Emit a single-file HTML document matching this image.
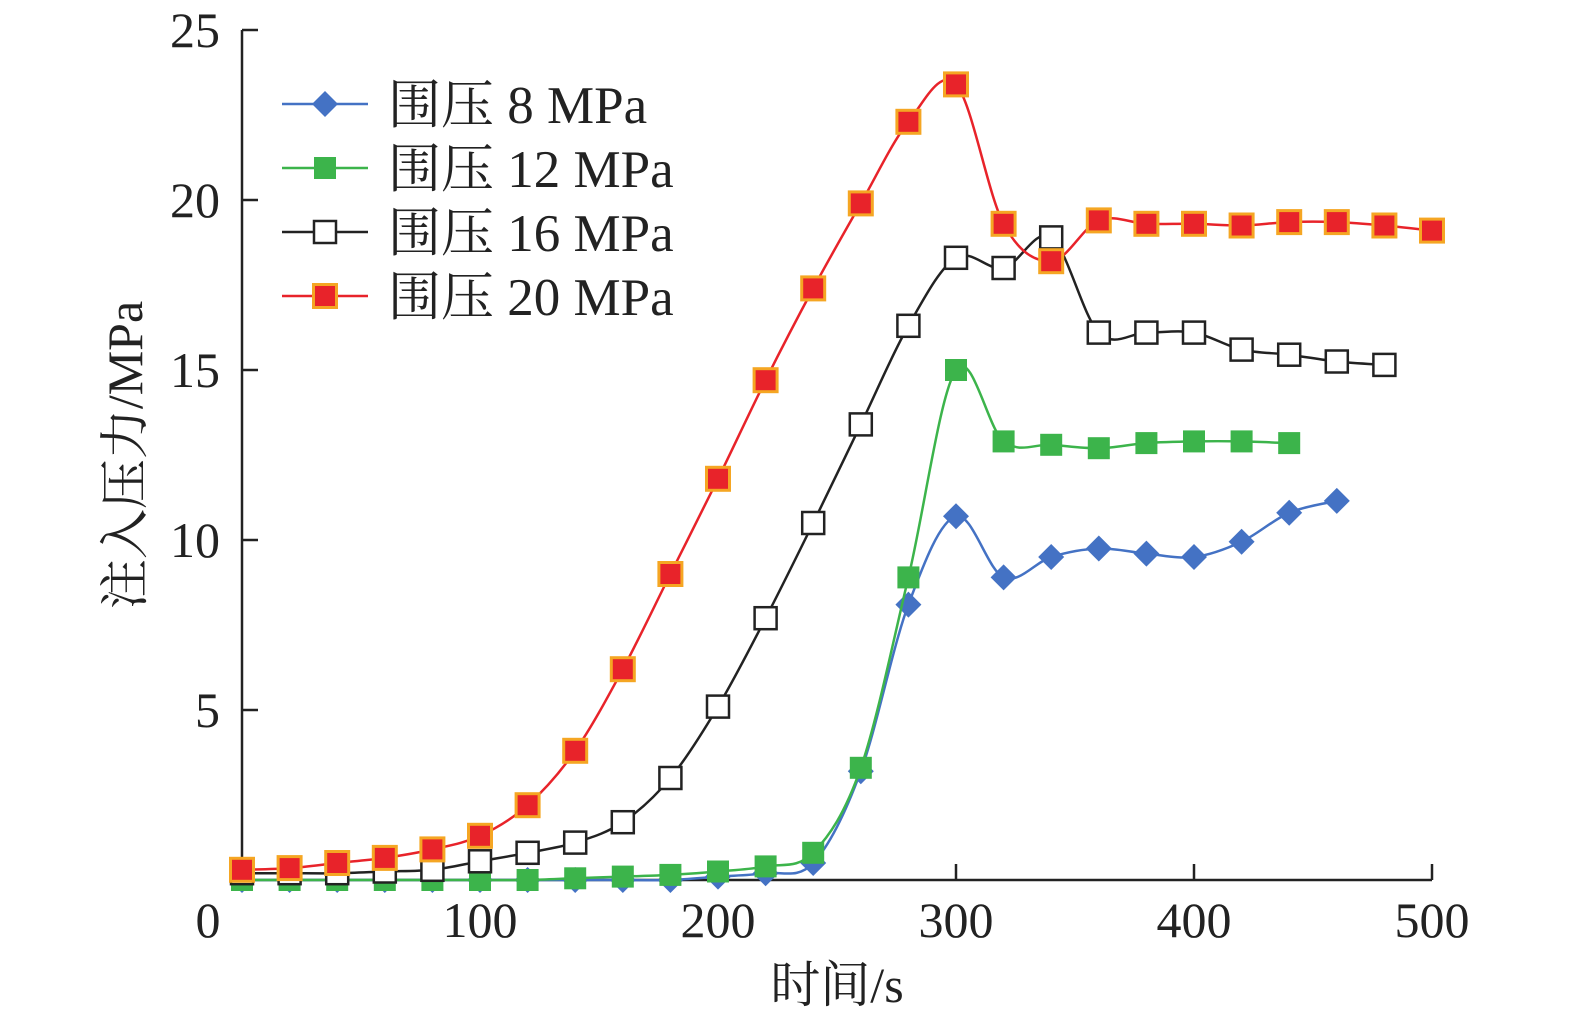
<!DOCTYPE html>
<html><head><meta charset="utf-8"><style>
html,body{margin:0;padding:0;background:#fff;}
svg text{font-family:"Liberation Serif","Noto Serif CJK SC",serif;fill:#222;}
</style></head><body>
<svg id="chart" width="1575" height="1026" viewBox="0 0 1575 1026" xmlns="http://www.w3.org/2000/svg"></svg>
<script>
const xValues=[0,20,40,60,80,100,120,140,160,180,200,220,240,260,280,300,320,340,360,380,400,420,440,460,480,500];
const s8=[0,0,0,0,0,0,0,0,0,0,0.1,0.2,0.5,3.2,8.1,10.7,8.9,9.5,9.75,9.6,9.5,9.95,10.8,11.15];
const s12=[0,0,0,0,0,0,0,0.05,0.1,0.15,0.25,0.4,0.8,3.3,8.9,15.0,12.9,12.8,12.7,12.85,12.9,12.9,12.85];
const s16=[0.2,0.2,0.2,0.25,0.3,0.55,0.8,1.1,1.7,3.0,5.1,7.7,10.5,13.4,16.3,18.3,18.0,18.9,16.1,16.1,16.1,15.6,15.45,15.25,15.15];
const s20=[0.3,0.35,0.5,0.65,0.9,1.3,2.2,3.8,6.2,9.0,11.8,14.7,17.4,19.9,22.3,23.4,19.3,18.2,19.4,19.3,19.3,19.25,19.35,19.35,19.25,19.1];
const xTicks=[0,100,200,300,400,500];
const yTicks=[5,10,15,20,25];
const NS='http://www.w3.org/2000/svg';
const svg=document.getElementById('chart');
const X=v=>242+v*2.38, Y=v=>880-v*34;
function el(t,a,p){const e=document.createElementNS(NS,t);for(const k in a)e.setAttribute(k,a[k]);(p||svg).appendChild(e);return e;}
function smooth(pts){let d=`M${pts[0][0]},${pts[0][1]}`;for(let i=0;i<pts.length-1;i++){const p0=pts[i-1]||pts[i],p1=pts[i],p2=pts[i+1],p3=pts[i+2]||p2;const t=6;d+=` C${p1[0]+(p2[0]-p0[0])/t},${p1[1]+(p2[1]-p0[1])/t} ${p2[0]-(p3[0]-p1[0])/t},${p2[1]-(p3[1]-p1[1])/t} ${p2[0]},${p2[1]}`;}return d;}
let ax=el('line',{x1:242,y1:30,x2:242,y2:880,stroke:'#222','stroke-width':2.5});


ax=el('line',{x1:242,y1:880,x2:1432,y2:880,stroke:'#222','stroke-width':2.5});


yTicks.forEach(v=>{const l=el('line',{x1:242,y1:Y(v),x2:258,y2:Y(v),stroke:'#222','stroke-width':2.5});


const t=el('text',{x:220,y:Y(v)+17,'text-anchor':'end','font-size':50});t.textContent=v;

});
xTicks.forEach(v=>{if(v>0){const l=el('line',{x1:X(v),y1:880,x2:X(v),y2:864,stroke:'#222','stroke-width':2.5});

}
const t=el('text',{x:v==0?208:X(v),y:937,'text-anchor':'middle','font-size':50});t.textContent=v;

});
let tt=el('text',{x:837,y:1002,'text-anchor':'middle','font-size':50});tt.textContent='时间/s';


tt=el('text',{x:0,y:0,'text-anchor':'middle','font-size':50,transform:'translate(142,455) rotate(-90)'});tt.textContent='注入压力/MPa';


const series=[
 {d:s8,c:'#4472c4',m:'diamond',name:'围压 8 MPa',k:'8'},
 {d:s12,c:'#3cb44b',m:'green',name:'围压 12 MPa',k:'12'},
 {d:s16,c:'#222',m:'open',name:'围压 16 MPa',k:'16'},
 {d:s20,c:'#e8232a',m:'red',name:'围压 20 MPa',k:'20'}];
function marker(m,x,y,g){
 if(m=='diamond')return el('path',{d:`M${x},${y-13}L${x+13},${y}L${x},${y+13}L${x-13},${y}Z`,fill:'#4472c4'},g);
 if(m=='green')return el('rect',{x:x-11,y:y-11,width:22,height:22,fill:'#3cb44b'},g);
 if(m=='open')return el('rect',{x:x-11,y:y-11,width:22,height:22,fill:'#fff',stroke:'#222','stroke-width':2.5},g);
 return el('rect',{x:x-11.5,y:y-11.5,width:23,height:23,fill:'#e8232a',stroke:'#f5a623','stroke-width':3},g);
}
series.forEach(s=>{
 const g=el('g',{});
 
 
 const pts=s.d.map((v,i)=>[X(xValues[i]),Y(v)]);
 const p=el('path',{d:smooth(pts),fill:'none',stroke:s.c,'stroke-width':2.5},g);
 
 
 pts.forEach(q=>{const mk=marker(s.m,q[0],q[1],g);
 
 });
});
series.forEach((s,i)=>{
 const y=104+i*64;
 const g=el('g',{});
 
 
 el('line',{x1:282,y1:y,x2:368,y2:y,stroke:s.c,'stroke-width':2.5},g);
 marker(s.m,325,y,g);
 const t=el('text',{x:388,y:y+19,'font-size':53},g);t.textContent=s.name;
});
</script>
</body></html>
